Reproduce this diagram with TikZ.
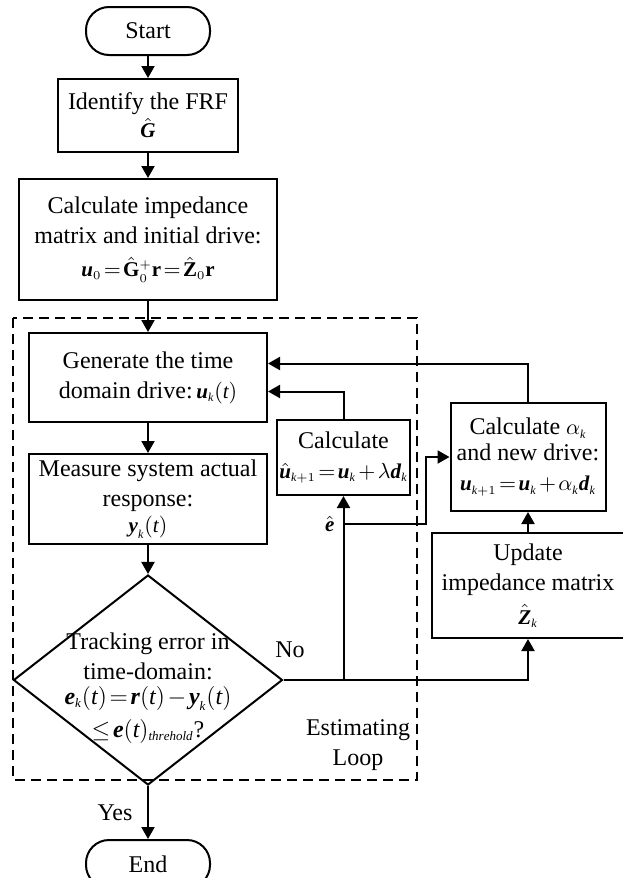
\documentclass[tikz,border=0pt]{standalone}
\usepackage{amsmath,amssymb}
\usepackage{fontspec}
\setmainfont{Liberation Serif}
\usepackage{tikz}
\usetikzlibrary{shapes.geometric, arrows.meta, positioning}
\DeclareMathSizes{12}{12}{6.5}{5}
\DeclareMathSizes{10.5}{10.5}{6}{5}
\thickmuskip=2mu
\medmuskip=2mu
\newcommand{\bv}[1]{\textbf{\textit{#1}}}
\newcommand{\fml}[1]{{\fontsize{10.5pt}{13pt}\selectfont$#1$}}
\tikzstyle{block} = [rectangle, draw=black, line width=1pt, align=center,
    inner sep=1pt]
\tikzstyle{termblock} = [block, rounded corners=11.5pt, minimum width=62pt,
    minimum height=24pt]
\tikzstyle{decblock} = [diamond, draw=black, line width=1pt,
    minimum width=134.5pt, minimum height=105pt, inner sep=0pt]
\tikzstyle{arrow} = [line width=1pt, -{Triangle[length=6pt, width=6.5pt]}]
\tikzstyle{loopframe} = [line width=1pt, dash pattern=on 5pt off 3pt]

\begin{document}
\begin{tikzpicture}[x=0.5pt, y=-0.5pt, font=\fontsize{12pt}{15pt}\selectfont]
  \useasboundingbox (0,0) rectangle (622,878);

  % Main column
  \node[termblock](start) at (148,31) {Start};
  \node[block, below=11pt of start, minimum width=90pt, minimum height=36.5pt](ident)
    {Identify the FRF\\[-1pt] \fml{\hat{\bv{G}}}};
  \node[block, below=12.5pt of ident, minimum width=129pt, minimum height=60.5pt](calcimp)
    {Calculate impedance\\ matrix and initial drive:\\[1.5pt]
     \fml{\bv{u}_0 = \hat{\mathbf{G}}_0^{+}\mathbf{r} = \hat{\mathbf{Z}}_0\mathbf{r}}};
  \node[block, below=15.5pt of calcimp, minimum width=119pt, minimum height=44.5pt](gen)
    {Generate the time\\ domain drive:\fml{\,\bv{u}_{\mathit{k}}(\mathit{t})}};
  \node[block, below=15pt of gen, minimum width=119pt, minimum height=45pt](meas)
    {Measure system actual\\ response:\\[-2pt] \fml{\bv{y}_{\mathit{k}}(\mathit{t})}};
  \node[decblock, below=14.5pt of meas](dec){};
  \node[align=center](dectext) at (148,688)
    {Tracking error in\\ time-domain:\\[-2.5pt]
     $\bv{e}_{\mathit{k}}(\mathit{t}) = \bv{r}(\mathit{t}) - \bv{y}_{\mathit{k}}(\mathit{t})$\\[1.5pt]
     $\le \bv{e}(\mathit{t})_{\mathit{threhold}}$?};
  \node[termblock, below=26.5pt of dec](end){End};

  % Right-hand blocks
  \node[block, minimum width=64.5pt, minimum height=37.5pt](calcu) at (343.5,457.5)
    {Calculate\\[0pt] \fml{\hat{\bv{u}}_{\mathit{k}+1} = \bv{u}_{\mathit{k}} + \lambda\bv{d}_{\mathit{k}}}};
  \node[block, minimum width=77.5pt, minimum height=54pt](calca) at (528,457)
    {Calculate \fml{\alpha_{\mathit{k}}}\\[-2pt] and new drive:\\[0pt]
     \fml{\bv{u}_{\mathit{k}+1} = \bv{u}_{\mathit{k}} + \alpha_{\mathit{k}}\bv{d}_{\mathit{k}}}};
  \node[block, minimum width=96pt, minimum height=52.5pt](update) at (528,585.5)
    {Update\\ impedance matrix\\[2pt] \fml{\hat{\bv{Z}}_{\mathit{k}}}};

  % Estimating loop frame
  \draw[loopframe] (13,318) rectangle (417,780);
  \node[align=center](looplabel) at (358,745) {Estimating\\ Loop};

  % Main flow
  \draw[arrow](start)--(ident);
  \draw[arrow](ident)--(calcimp);
  \draw[arrow](calcimp)--(gen);
  \draw[arrow](gen)--(meas);
  \draw[arrow](meas)--(dec);
  \draw[arrow](dec)--(end);
  \node(yes) at (115,813) {Yes};
  \node(no) at (290,650) {No};

  % Feedback paths
  \coordinate (nojoint) at (calcu.south |- dec.east);
  \coordinate (ehat) at ([yshift=-14pt]calcu.south);
  \coordinate (ejog) at ([xshift=41pt]ehat);
  \draw[arrow](dec.east) -| (update.south);
  \draw[arrow](nojoint) -- (calcu.south);
  \draw[arrow](ehat) -- (ejog) |- (calca.west);
  \node[left=1pt of ehat](elabel) {\fml{\hat{\bv{e}}}};
  \draw[arrow](calcu.north) |- ([yshift=-7pt]gen.east);
  \draw[arrow](calca.north) |- ([yshift=7pt]gen.east);
  \draw[arrow](update.north) -- (calca.south);
\end{tikzpicture}
\end{document}
